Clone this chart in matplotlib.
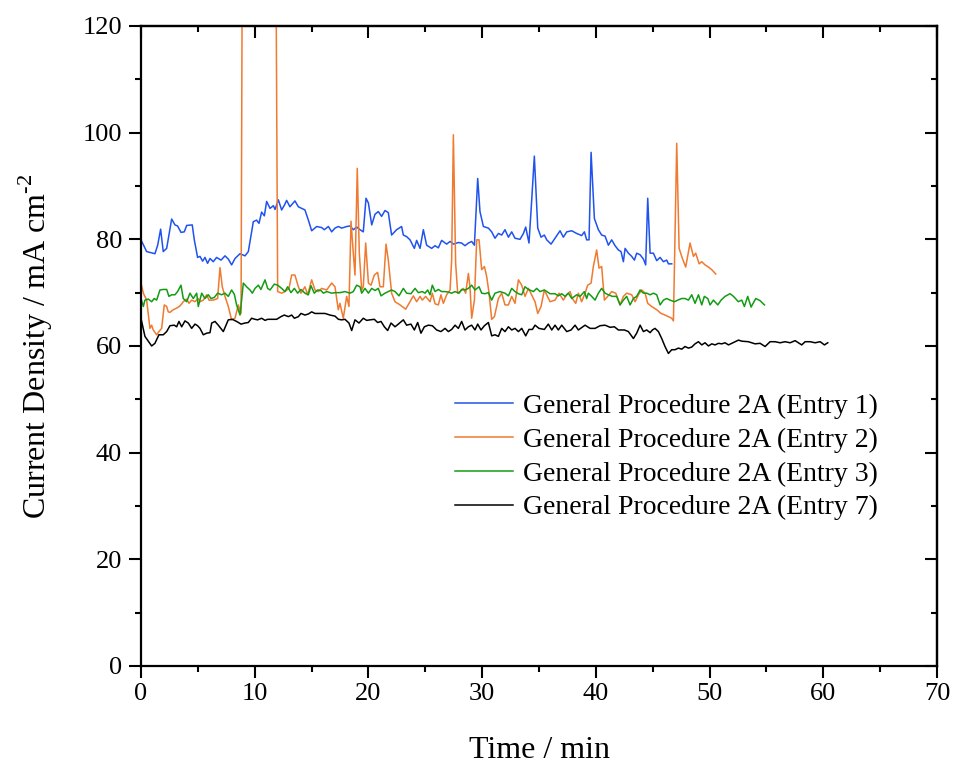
import matplotlib
matplotlib.use("Agg")
import matplotlib.pyplot as plt
from matplotlib.ticker import MultipleLocator

plt.rcParams["font.family"] = ["Liberation Serif", "DejaVu Serif"]
plt.rcParams["mathtext.fontset"] = "custom"
plt.rcParams["mathtext.rm"] = "Liberation Serif"

# Entry 1 (blue)
t1 = [0, 0.50, 1.23, 1.47, 1.73, 1.96, 2.26, 2.70, 2.99, 3.22, 3.52, 3.81, 4.02, 4.51, 4.69, 4.98,
      5.19, 5.42, 5.63, 5.86, 6.07, 6.36, 6.65, 7.04, 7.39, 7.68, 7.97, 8.27, 8.71, 9.15, 9.44, 9.88,
      10.17, 10.38, 10.61, 10.85, 11.05, 11.35, 11.64, 11.79, 12.08, 12.37, 12.61, 12.81, 13.10, 13.54,
      13.84, 14.42, 14.72, 15.01, 15.45, 15.89, 16.12, 16.48, 16.77, 17.06, 17.35, 17.65, 18.09, 18.38,
      18.67, 18.97, 19.26, 19.55, 19.79, 20.00, 20.29, 20.58, 20.87, 21.16, 21.46, 21.75, 22.04, 22.48,
      22.92, 23.07, 23.36, 23.66, 24.04, 24.24, 24.54, 24.83, 25.12, 25.56, 25.86, 26.15, 26.44, 26.88,
      27.18, 27.47, 27.91, 28.20, 28.49, 28.79, 29.08, 29.32, 29.61, 29.81, 30.11, 30.55, 30.84, 31.13,
      31.43, 31.72, 32.01, 32.31, 32.60, 32.89, 33.33, 33.63, 33.83, 34.12, 34.36, 34.59, 34.89, 35.18,
      35.47, 35.68, 36.06, 36.41, 36.85, 37.14, 37.44, 37.88, 38.31, 38.75, 38.99, 39.19, 39.40, 39.58,
      39.87, 40.22, 40.51, 40.81, 41.10, 41.39, 41.69, 41.98, 42.21, 42.42, 42.57, 42.86, 43.15, 43.39,
      43.59, 43.89, 44.18, 44.38, 44.56, 44.77, 45.06, 45.35, 45.65, 45.94, 46.23, 46.38, 46.67]
j1 = [79.9, 77.7, 77.3, 78.9, 81.9, 77.7, 78.3, 83.8, 82.7, 82.5, 81.3, 81.4, 82.6, 82.7, 79.9, 76.6,
      76.8, 75.9, 76.6, 75.5, 76.4, 75.8, 76.6, 76.1, 76.9, 76.3, 75.2, 76.4, 77.3, 76.9, 77.7, 83.3,
      83.6, 83.0, 85.1, 84.4, 87.1, 85.8, 86.3, 85.6, 87.4, 85.5, 86.4, 87.3, 86.1, 87.2,
      86.1, 85.5, 83.6, 81.6, 82.4, 82.2, 81.8, 82.4, 81.4, 82.1, 82.4, 82.1, 82.4, 82.5,
      81.8, 82.3, 81.8, 81.4, 87.7, 86.8, 82.7, 84.7, 85.2, 84.3, 85.4, 85.0, 80.8, 81.8,
      82.4, 80.8, 80.5, 79.9, 78.3, 79.8, 78.3, 81.8, 78.9, 78.3, 78.8, 78.4, 79.8, 79.1,
      79.6, 79.1, 79.4, 79.3, 78.8, 79.3, 79.6, 78.9, 91.4, 85.2, 82.4, 82.1, 81.4, 80.2,
      81.1, 80.8, 81.8, 80.4, 81.4, 80.2, 80.0, 81.1, 82.3, 79.3, 87.4, 95.6, 82.1, 80.4,
      80.8, 79.9, 79.1, 80.2, 81.6, 80.4, 81.4, 81.6, 81.1, 80.7, 81.4, 79.9, 79.9, 96.3,
      83.9, 81.8, 80.8, 80.6, 78.9, 79.9, 78.8, 78.0, 77.7, 75.8, 78.3, 77.4, 76.8, 76.1,
      77.4, 77.1, 76.3, 75.2, 87.7, 77.4, 77.4, 76.0, 76.6, 75.8, 76.1, 75.4, 75.4]

# Entry 2 (orange)
t2 = [0, 0.21, 0.50, 0.79, 0.94, 1.08, 1.38, 1.58, 1.82, 2.05, 2.26, 2.40, 2.55, 2.84, 3.14, 3.43,
      3.72, 4.02, 4.22, 4.46, 4.75, 5.04, 5.19, 5.48, 5.78, 5.98, 6.36, 6.74, 6.95, 7.15, 7.39, 7.68,
      7.97, 8.27, 8.56, 8.80, 8.92, 11.85, 12.02, 12.37, 12.66, 13.02, 13.25, 13.54, 13.84, 14.07,
      14.42, 14.66, 15.01, 15.30, 15.60, 15.89, 16.33, 16.77, 17.06, 17.35, 17.50, 17.79, 18.09, 18.29,
      18.47, 18.67, 18.82, 19.02, 19.20, 19.41, 19.55, 19.76, 20.00, 20.23, 20.52, 20.81, 21.02, 21.31,
      21.55, 21.75, 22.04, 22.34, 22.78, 23.28, 23.66, 23.95, 24.24, 24.54, 24.74, 25.03, 25.42, 25.62,
      25.86, 26.15, 26.38, 26.59, 26.88, 27.18, 27.32, 27.47, 27.67, 27.85, 28.05, 28.35, 28.55, 28.79,
      28.93, 29.08, 29.32, 29.52, 29.73, 29.96, 30.20, 30.40, 30.61, 30.84, 31.08, 31.43, 31.72, 32.01,
      32.31, 32.60, 32.89, 33.19, 33.48, 33.77, 34.07, 34.42, 34.65, 34.89, 35.18, 35.47, 35.97, 36.41,
      36.76, 37.14, 37.44, 37.73, 37.93, 38.23, 38.46, 38.75, 39.05, 39.28, 39.58, 39.78, 40.07, 40.28,
      40.51, 40.75, 41.04, 41.39, 41.75, 42.13, 42.42, 42.71, 43.15, 43.45, 43.74, 44.03, 44.33, 44.56,
      44.91, 45.35, 45.73, 46.08, 46.38, 46.67, 46.82, 47.11, 47.32, 47.61, 47.90, 48.28, 48.58, 48.78,
      49.08, 49.31, 49.60, 49.90, 50.19, 50.54]
j2 = [71.8, 69.9, 68.6, 63.3, 63.9, 63.0, 62.1, 62.7, 63.3, 67.7, 67.4, 66.4, 66.3, 66.8, 67.1, 67.5,
      68.3, 68.8, 68.0, 68.6, 68.3, 68.9, 68.3, 68.6, 69.6, 68.6, 68.6, 68.9, 74.7, 71.1, 69.3, 67.4,
      64.9, 65.2, 67.7, 66.1, 140.0, 140.0, 70.2, 69.9, 70.2, 70.8, 73.3, 73.3, 71.1, 69.9,
      71.1, 69.6, 72.4, 70.5, 70.2, 70.8, 70.5, 71.8, 71.1, 66.8, 68.0, 65.2, 69.3, 67.4,
      83.4, 77.4, 73.3, 93.3, 77.4, 70.5, 71.1, 79.3, 71.8, 71.4, 73.3, 73.8, 71.1, 71.1,
      79.1, 76.1, 69.9, 68.3, 67.7, 66.9, 68.3, 69.4, 68.3, 69.3, 68.6, 69.3, 68.3, 69.9,
      67.9, 67.7, 69.6, 68.0, 69.6, 70.5, 76.1, 99.6, 75.5, 69.9, 70.2, 70.8, 69.9, 73.6,
      71.1, 65.2, 68.6, 79.9, 79.9, 74.3, 74.9, 73.0, 69.9, 65.0, 65.5, 68.9, 69.9, 67.7,
      67.7, 69.3, 68.0, 72.4, 71.4, 69.3, 70.8, 69.3, 68.3, 66.1, 67.4, 70.5, 68.3, 68.6,
      69.9, 68.6, 69.6, 70.2, 68.9, 68.0, 69.9, 68.3, 69.9, 71.4, 71.8, 74.9, 78.0, 74.6,
      74.9, 68.6, 69.3, 70.2, 69.9, 67.7, 69.3, 69.9, 69.6, 68.3, 69.6, 70.5, 69.9, 68.0,
      67.4, 66.8, 66.1, 65.8, 65.5, 65.2, 64.7, 98.0, 78.3, 76.4, 74.8, 79.3, 76.8, 77.4,
      75.4, 75.8, 75.2, 74.8, 74.3, 73.5]

# Entry 3 (green)
t3 = [0, 0.21, 0.35, 0.64, 0.94, 1.17, 1.38, 1.67, 1.96, 2.26, 2.46, 2.70, 2.99, 3.22, 3.52, 3.72,
      4.02, 4.31, 4.60, 4.90, 5.04, 5.34, 5.63, 5.92, 6.16, 6.45, 6.74, 7.09, 7.39, 7.68, 7.97, 8.21,
      8.41, 8.71, 8.85, 9.00, 9.29, 9.59, 9.79, 10.03, 10.32, 10.55, 10.91, 11.14, 11.35, 11.73, 12.02,
      12.37, 12.66, 12.90, 13.19, 13.49, 13.78, 14.07, 14.42, 14.72, 14.95, 15.24, 15.54, 15.83, 16.04,
      16.33, 16.77, 17.06, 17.50, 17.94, 18.38, 18.67, 18.97, 19.26, 19.41, 19.70, 20.00, 20.29, 20.58,
      20.87, 21.11, 21.46, 21.75, 22.04, 22.34, 22.69, 23.07, 23.36, 23.74, 24.10, 24.39, 24.74, 24.98,
      25.21, 25.42, 25.62, 25.86, 26.15, 26.44, 26.74, 27.03, 27.32, 27.62, 27.97, 28.20, 28.49, 28.79,
      29.08, 29.37, 29.73, 29.96, 30.25, 30.55, 30.84, 31.13, 31.57, 32.01, 32.31, 32.60, 32.89, 33.19,
      33.48, 33.77, 34.07, 34.51, 34.80, 35.09, 35.47, 35.97, 36.41, 36.70, 37.00, 37.29, 37.58, 37.88,
      38.31, 38.61, 38.99, 39.19, 39.34, 39.63, 39.93, 40.22, 40.51, 40.81, 41.10, 41.45, 41.83, 42.13,
      42.42, 42.71, 43.01, 43.30, 43.59, 43.89, 44.18, 44.47, 44.77, 45.06, 45.35, 45.65, 45.94, 46.23,
      46.52, 46.91, 47.20, 47.55, 47.84, 48.14, 48.43, 48.72, 49.02, 49.31, 49.54, 49.84, 50.04, 50.34,
      50.72, 51.01, 51.36, 51.80, 52.10, 52.53, 52.83, 53.06, 53.35, 53.65, 53.85, 54.06, 54.44, 54.82]
j3 = [68.9, 67.4, 68.6, 68.8, 68.3, 68.9, 68.6, 70.5, 70.6, 70.6, 69.3, 69.6, 69.6, 70.2, 71.4, 68.9,
      68.3, 69.9, 68.9, 69.9, 67.4, 69.9, 68.9, 69.6, 68.9, 69.1, 69.9, 69.6, 69.9, 69.3, 70.5, 69.7,
      67.7, 65.8, 68.6, 71.8, 71.1, 70.5, 69.9, 70.8, 71.4, 70.6, 72.4, 70.8, 70.5, 71.6, 71.4,
      70.8, 70.2, 71.1, 70.0, 70.8, 69.9, 70.6, 69.9, 69.6, 71.3, 69.9, 70.5, 70.4, 69.9,
      70.2, 69.9, 70.0, 70.0, 70.2, 69.9, 70.2, 71.4, 71.1, 69.9, 70.8, 69.9, 70.8, 70.4,
      70.8, 69.4, 69.9, 70.2, 70.5, 70.2, 69.4, 70.8, 69.9, 69.8, 70.8, 70.0, 70.2, 69.9,
      70.5, 69.6, 71.4, 70.2, 70.6, 70.2, 70.2, 70.1, 69.9, 70.2, 69.9, 70.6, 70.5, 70.8,
      71.4, 70.5, 71.1, 69.9, 69.8, 70.0, 68.6, 69.9, 70.2, 69.9, 69.4, 70.8, 70.2, 69.8,
      69.6, 71.1, 70.6, 70.2, 70.8, 70.2, 70.5, 69.8, 69.8, 69.4, 69.8, 69.3, 69.9, 68.9,
      69.6, 69.3, 70.2, 68.9, 69.9, 69.3, 68.6, 69.9, 70.8, 69.9, 69.6, 69.3, 69.3, 67.7,
      68.6, 69.3, 67.7, 68.9, 69.3, 70.5, 69.9, 69.9, 69.6, 69.9, 69.6, 67.7, 68.6, 68.9,
      68.6, 68.3, 68.6, 68.9, 68.9, 68.6, 69.6, 68.0, 69.6, 67.7, 69.3, 68.9, 67.7, 68.6,
      67.7, 68.6, 69.3, 69.8, 69.3, 68.3, 68.6, 67.4, 69.3, 67.3, 68.1, 68.9, 68.5, 67.7]

# Entry 7 (black)
t7 = [0, 0.35, 0.94, 1.23, 1.58, 1.96, 2.26, 2.55, 2.93, 3.14, 3.34, 3.58, 3.87, 4.16, 4.46, 4.75,
      4.98, 5.19, 5.48, 5.78, 6.07, 6.22, 6.51, 6.80, 7.24, 7.68, 8.03, 8.41, 8.80, 9.15, 9.44, 9.73,
      10.03, 10.26, 10.61, 10.91, 11.14, 11.49, 11.93, 12.31, 12.61, 12.96, 13.25, 13.49, 13.84, 14.07,
      14.42, 14.72, 15.01, 15.30, 15.74, 16.18, 16.62, 17.06, 17.36, 17.65, 17.94, 18.29, 18.53, 18.82,
      19.17, 19.55, 19.85, 20.14, 20.52, 20.81, 21.11, 21.40, 21.69, 21.99, 22.34, 22.63, 23.07, 23.36,
      23.74, 24.04, 24.33, 24.62, 24.92, 25.27, 25.62, 26.00, 26.38, 26.74, 27.03, 27.32, 27.62, 27.91,
      28.20, 28.49, 28.79, 29.08, 29.37, 29.61, 29.90, 30.20, 30.55, 30.84, 31.13, 31.43, 31.72, 32.01,
      32.31, 32.60, 32.89, 33.19, 33.48, 33.83, 34.12, 34.42, 34.65, 35.00, 35.47, 35.82, 36.12, 36.41,
      36.70, 37.00, 37.44, 37.82, 38.17, 38.46, 39.05, 39.49, 39.93, 40.37, 40.81, 41.25, 41.63, 41.98,
      42.51, 42.86, 43.30, 43.59, 43.89, 44.18, 44.47, 44.77, 44.97, 45.20, 45.50, 45.79, 46.08, 46.38,
      46.67, 46.96, 47.26, 47.55, 47.84, 48.14, 48.43, 48.72, 49.02, 49.31, 49.60, 49.90, 50.19, 50.48,
      50.78, 51.07, 51.36, 51.66, 51.95, 52.24, 52.54, 52.83, 53.41, 54.00, 54.44, 54.88, 55.32, 55.76,
      56.20, 56.64, 57.08, 57.52, 57.81, 58.10, 58.40, 58.84, 59.28, 59.72, 60.10, 60.39]
j7 = [65.2, 61.8, 60.0, 60.5, 62.1, 62.1, 62.7, 63.8, 63.9, 63.6, 64.6, 63.6, 64.7, 64.3, 63.3, 64.1,
      63.8, 63.3, 62.1, 62.4, 62.5, 64.3, 64.6, 63.9, 62.7, 64.9, 65.0, 64.6, 64.1, 64.3, 64.4, 65.2,
      65.0, 64.9, 65.2, 64.8, 65.0, 65.0, 65.0, 65.5, 65.8, 65.5, 65.8, 65.2, 65.5, 66.1,
      65.8, 66.0, 66.4, 66.1, 66.1, 66.1, 65.8, 65.6, 65.0, 64.9, 65.0, 64.3, 62.9, 64.9,
      64.3, 65.2, 64.8, 64.9, 65.0, 64.4, 64.6, 63.6, 62.9, 64.3, 63.6, 64.1, 64.9, 63.9,
      64.1, 63.0, 64.4, 62.4, 63.6, 63.9, 63.8, 63.0, 62.7, 63.3, 62.7, 63.1, 63.9, 63.3,
      64.6, 63.0, 63.6, 63.9, 63.0, 64.1, 63.0, 63.8, 64.4, 61.9, 62.1, 61.8, 63.3, 62.7,
      63.6, 63.0, 63.3, 62.7, 63.3, 61.9, 63.1, 63.1, 63.9, 63.3, 63.1, 64.1, 63.0, 63.9,
      63.0, 63.9, 62.7, 63.0, 63.9, 63.0, 63.9, 63.3, 63.3, 63.8, 63.9, 63.5, 63.6, 63.0,
      63.0, 62.7, 61.4, 62.4, 63.9, 62.7, 63.0, 62.5, 63.0, 63.3, 62.7, 61.4, 59.9, 58.6,
      59.3, 59.3, 59.6, 59.4, 59.9, 59.6, 59.8, 60.4, 60.8, 60.2, 60.6, 60.0, 60.4, 60.2,
      60.5, 60.4, 60.6, 60.2, 60.5, 60.8, 61.1, 60.9, 60.8, 60.4, 60.5, 59.9, 60.8, 60.8,
      60.6, 60.8, 60.6, 61.0, 60.6, 60.2, 60.8, 60.8, 60.6, 60.8, 60.2, 60.6]

series = [
    (t1, j1, "#1f52ee", "General Procedure 2A (Entry 1)"),
    (t2, j2, "#ef7a30", "General Procedure 2A (Entry 2)"),
    (t3, j3, "#139c13", "General Procedure 2A (Entry 3)"),
    (t7, j7, "#000000", "General Procedure 2A (Entry 7)"),
]

fig = plt.figure(figsize=(9.55, 7.64), dpi=100)
ax = fig.add_axes([0.1476, 0.1283, 0.8336, 0.8377])

for t, j, c, lab in series:
    ax.plot(t, j, color=c, lw=1.1, label=lab)

ax.set_xlim(0, 70)
ax.set_ylim(0, 120)
ax.xaxis.set_major_locator(MultipleLocator(10))
ax.xaxis.set_minor_locator(MultipleLocator(5))
ax.yaxis.set_major_locator(MultipleLocator(20))
ax.yaxis.set_minor_locator(MultipleLocator(10))

for s in ax.spines.values():
    s.set_linewidth(1.6)

ax.tick_params(which="both", direction="out", width=1.5, labelsize=19,
               top=False, right=False)
ax.tick_params(which="major", length=8.5)
ax.tick_params(which="minor", length=4.3)
ax.tick_params(axis="y", pad=5)
ax.tick_params(axis="x", pad=4)

# inward ticks along the top and right spines
sec_x = ax.secondary_xaxis("top")
sec_x.xaxis.set_major_locator(MultipleLocator(10))
sec_x.xaxis.set_minor_locator(MultipleLocator(5))
sec_x.tick_params(which="both", direction="in", width=1.5, labeltop=False)
sec_x.tick_params(which="major", length=8.5)
sec_x.tick_params(which="minor", length=4.3)
sec_x.spines["top"].set_linewidth(1.6)

sec_y = ax.secondary_yaxis("right")
sec_y.yaxis.set_major_locator(MultipleLocator(20))
sec_y.yaxis.set_minor_locator(MultipleLocator(10))
sec_y.tick_params(which="both", direction="in", width=1.5, labelright=False)
sec_y.tick_params(which="major", length=8.5)
sec_y.tick_params(which="minor", length=4.3)
sec_y.spines["right"].set_linewidth(1.6)

ax.set_xlabel("Time / min", fontsize=23, labelpad=22)
ax.set_ylabel(r"Current Density / mA cm$^{\text{-2}}$", fontsize=23, labelpad=20)

ax.legend(loc="upper left", bbox_to_anchor=(0.38, 0.443), frameon=False,
          fontsize=20, handlelength=2.1, handletextpad=0.35, labelspacing=0.3,
          borderaxespad=0)

fig.savefig("out.png", dpi=100)
